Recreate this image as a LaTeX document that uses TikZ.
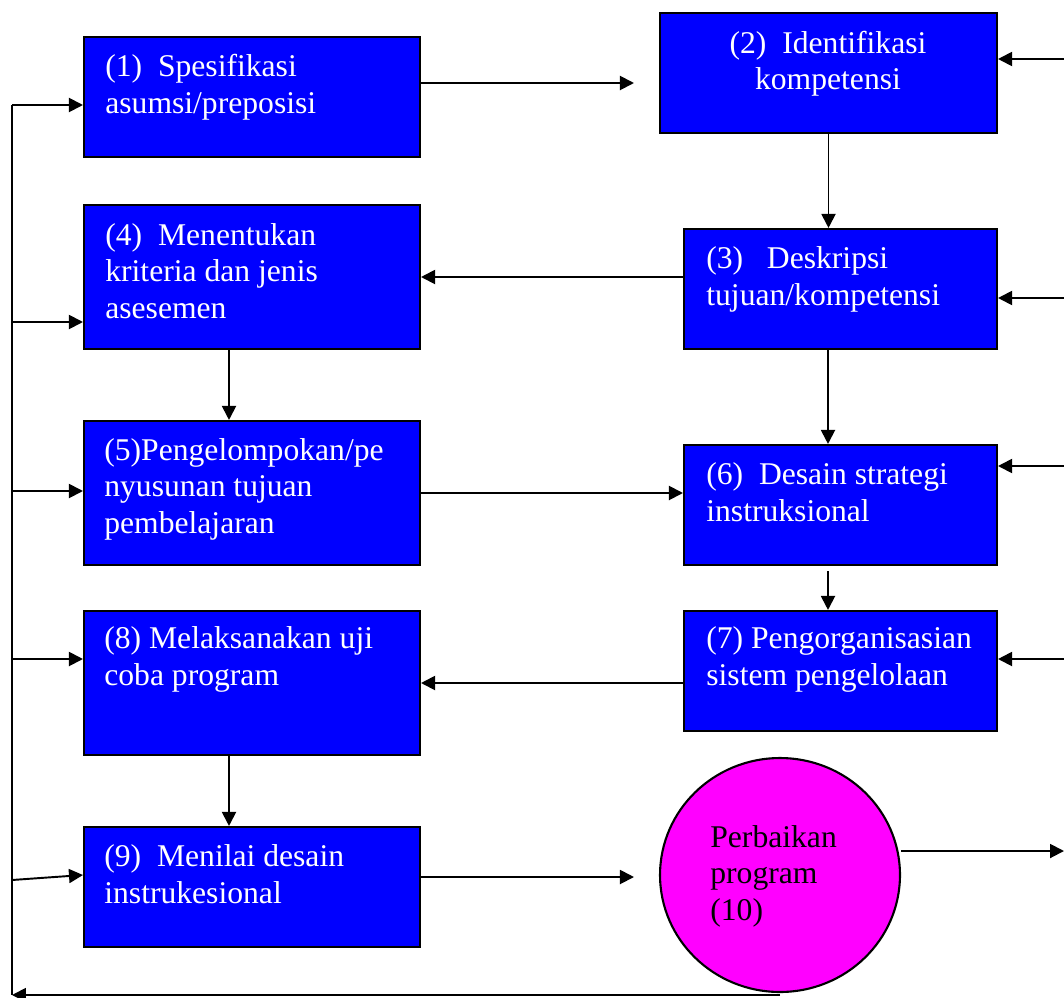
\documentclass[tikz,border=0pt]{standalone}
\usepackage{fontspec}
\setmainfont{Liberation Serif}
\usetikzlibrary{arrows.meta,shapes.geometric}
\definecolor{pinkfill}{RGB}{255,0,255}

\begin{document}
\begin{tikzpicture}[x=0.02cm, y=-0.02cm,
    box/.style={draw=black, line width=1.2pt, fill=blue, inner sep=0pt},
    txt/.style={text=white, align=left, inner sep=0pt, anchor=base west, font=\fontsize{18}{20.7}\selectfont},
    arr/.style={line width=1.1pt, -{Triangle[length=2.8mm, width=2.8mm]}},
    ln/.style={line width=1.1pt}]
  \useasboundingbox (0,0) rectangle (1064,997);
  % kotak kiri
  \node[box, minimum width=6.72cm, minimum height=2.4cm] (b1) at (252,97) {};
  \node[box, minimum width=6.72cm, minimum height=2.88cm] (b4) at (252,277) {};
  \node[box, minimum width=6.72cm, minimum height=2.88cm] (b5) at (252,493) {};
  \node[box, minimum width=6.72cm, minimum height=2.88cm] (b8) at (252,683) {};
  \node[box, minimum width=6.72cm, minimum height=2.4cm] (b9) at (252,887) {};
  % kotak kanan
  \node[box, minimum width=6.74cm, minimum height=2.4cm] (b2) at (828.5,73) {};
  \node[box, minimum width=6.26cm, minimum height=2.4cm] (b3) at (840.5,289) {};
  \node[box, minimum width=6.26cm, minimum height=2.4cm] (b6) at (840.5,505) {};
  \node[box, minimum width=6.26cm, minimum height=2.4cm] (b7) at (840.5,671) {};
  \node[ellipse, draw=black, line width=1.2pt, fill=pinkfill, inner sep=0pt,
        minimum width=4.8cm, minimum height=4.68cm] (c10) at (780,875) {};
  % teks (posisi = baris terakhir)
  \node[txt] (t1) at (105,113) {(1)~~Spesifikasi\\asumsi/preposisi};
  \node[txt, anchor=base, align=center] (t2) at (828,90) {(2)~~Identifikasi\\kompetensi};
  \node[txt] (t4) at (105,318) {(4)~~Menentukan\\kriteria dan jenis\\asesemen};
  \node[txt] (t3) at (706,305) {(3)~~~Deskripsi\\tujuan/kompetensi};
  \node[txt] (t5) at (104,533) {(5)Pengelompokan/pe\\nyusunan tujuan\\pembelajaran};
  \node[txt] (t6) at (706,521) {(6)~~Desain strategi\\instruksional};
  \node[txt] (t8) at (104,685) {(8) Melaksanakan uji\\coba program};
  \node[txt] (t7) at (706,685) {(7) Pengorganisasian\\sistem pengelolaan};
  \node[txt] (t9) at (104,903) {(9)~~Menilai desain\\instrukesional};
  \node[txt, text=black] (t10) at (710,920) {Perbaikan\\program\\(10)};
  % panah antar kotak
  \draw[arr, shorten >=0.5cm] ([yshift=0.28cm]b1.east) -- ([yshift=0.28cm]b1.east -| b2.west);
  \draw[arr] (b2.south) -- (b2.south |- b3.north);
  \draw[arr] ([yshift=0.24cm]b3.west) -- ([yshift=0.24cm]b3.west -| b4.east);
  \draw[arr] ([xshift=-0.46cm]b4.south) -- ([xshift=-0.46cm]b4.south |- b5.north);
  \draw[arr] ([xshift=-0.25cm]b3.south) -- ([xshift=-0.25cm]b3.south |- b6.north);
  \draw[arr] (b5.east) -- (b5.east -| b6.west);
  \draw[arr] ([xshift=-0.25cm, yshift=-0.1cm]b6.south) -- ([xshift=-0.25cm]b6.south |- b7.north);
  \draw[arr] ([yshift=-0.24cm]b7.west) -- ([yshift=-0.24cm]b7.west -| b8.east);
  \draw[arr] ([xshift=-0.46cm]b8.south) -- ([xshift=-0.46cm]b8.south |- b9.north);
  \draw[arr, shorten >=0.5cm] ([yshift=0.2cm]b9.east) -- ([yshift=0.2cm]b9.east -| c10.west);
  % umpan balik kanan
  \coordinate (r2) at (1064,59);
  \coordinate (r3) at (1064,298);
  \coordinate (r6) at (1064,466);
  \coordinate (r7) at (1064,659);
  \coordinate (r10) at (1064,851);
  \draw[arr] (r2) -- (r2 -| b2.east);
  \draw[arr] (r3) -- (r3 -| b3.east);
  \draw[arr] (r6) -- (r6 -| b6.east);
  \draw[arr] (r7) -- (r7 -| b7.east);
  \draw[arr] (c10.east |- r10) -- (r10);
  % umpan balik kiri
  \coordinate (l1) at (12,105);
  \coordinate (l4) at (12,322);
  \coordinate (l5) at (12,491);
  \coordinate (l8) at (12,659);
  \coordinate (l9) at (12,880);
  \coordinate (lb) at (12,995);
  \draw[ln] (l1) -- (lb);
  \draw[arr] (l1) -- (l1 -| b1.west);
  \draw[arr] (l4) -- (l4 -| b4.west);
  \draw[arr] (l5) -- (l5 -| b5.west);
  \draw[arr] (l8) -- (l8 -| b8.west);
  \draw[arr] (l9) -- ([yshift=0.24cm]b9.west);
  \draw[arr] (lb -| c10.south) -- (lb);
\end{tikzpicture}
\end{document}
